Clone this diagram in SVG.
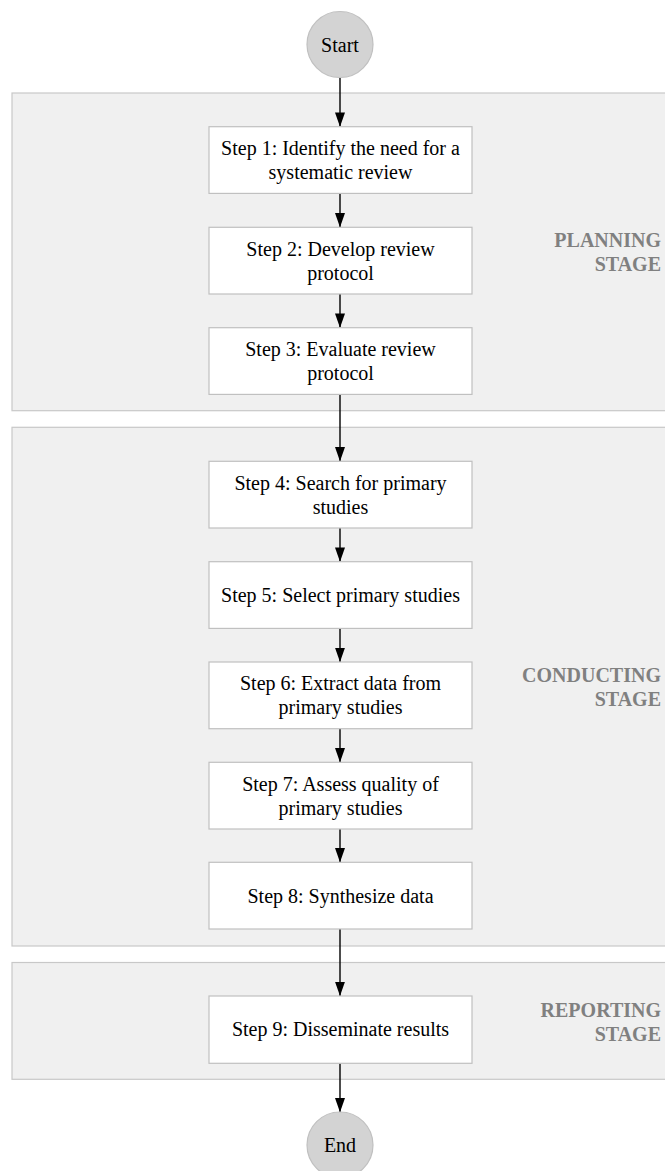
<svg xmlns="http://www.w3.org/2000/svg" width="665" height="1171" viewBox="0 0 665 1171">
  <style>
    .cluster { fill: #f0f0f0; stroke: #c8c8c8; stroke-width: 1.2; }
    .box { fill: #ffffff; stroke: #c0c0c0; stroke-width: 1.2; }
    .term { fill: #d3d3d3; stroke: #c0c0c0; stroke-width: 1.2; }
    .lbl { font-family: "Liberation Serif", "Times New Roman", serif; font-size: 20px; fill: #000000; text-anchor: middle; }
    .stage { font-family: "Liberation Serif", "Times New Roman", serif; font-size: 20px; font-weight: bold; fill: #808080; text-anchor: end; }
    .edge { stroke: #000000; stroke-width: 1.4; fill: none; }
  </style>
  <defs>
    <marker id="arrow" markerUnits="userSpaceOnUse" viewBox="0 0 14.3 10" refX="14.3" refY="5" markerWidth="14.3" markerHeight="10" orient="auto">
      <path d="M0,0 L14.3,5 L0,10 Z" fill="#000000"/>
    </marker>
  </defs>

  <!-- stage clusters -->
  <g id="cluster-planning">
    <rect class="cluster" x="12" y="93" width="670" height="317.7"/>
    <text class="stage" x="661" y="247">PLANNING</text>
    <text class="stage" x="661" y="271">STAGE</text>
  </g>
  <g id="cluster-conducting">
    <rect class="cluster" x="12" y="427.3" width="670" height="518.7"/>
    <text class="stage" x="661" y="682">CONDUCTING</text>
    <text class="stage" x="661" y="706">STAGE</text>
  </g>
  <g id="cluster-reporting">
    <rect class="cluster" x="12" y="962.5" width="670" height="116.8"/>
    <text class="stage" x="661" y="1017">REPORTING</text>
    <text class="stage" x="661" y="1041">STAGE</text>
  </g>

  <!-- connectors -->
  <g id="connectors">
    <line class="edge" x1="340" y1="77.5" x2="340" y2="126.7" marker-end="url(#arrow)"/>
    <line class="edge" x1="340" y1="193.4" x2="340" y2="227.3" marker-end="url(#arrow)"/>
    <line class="edge" x1="340" y1="294" x2="340" y2="327.7" marker-end="url(#arrow)"/>
    <line class="edge" x1="340" y1="394.4" x2="340" y2="461.3" marker-end="url(#arrow)"/>
    <line class="edge" x1="340" y1="528" x2="340" y2="561.7" marker-end="url(#arrow)"/>
    <line class="edge" x1="340" y1="628.4" x2="340" y2="662" marker-end="url(#arrow)"/>
    <line class="edge" x1="340" y1="728.7" x2="340" y2="762.3" marker-end="url(#arrow)"/>
    <line class="edge" x1="340" y1="829" x2="340" y2="862.3" marker-end="url(#arrow)"/>
    <line class="edge" x1="340" y1="929" x2="340" y2="996" marker-end="url(#arrow)"/>
    <line class="edge" x1="340" y1="1063.3" x2="340" y2="1112.3" marker-end="url(#arrow)"/>
  </g>

  <!-- nodes -->
  <g id="start">
    <circle class="term" cx="340" cy="44.5" r="33"/>
    <text class="lbl" x="340" y="51.5">Start</text>
  </g>
  <g id="step1">
    <rect class="box" x="209" y="126.7" width="263" height="66.7"/>
    <text class="lbl" x="340.5" y="155">Step 1: Identify the need for a</text>
    <text class="lbl" x="340.5" y="179">systematic review</text>
  </g>
  <g id="step2">
    <rect class="box" x="209" y="227.3" width="263" height="66.7"/>
    <text class="lbl" x="340.5" y="255.7">Step 2: Develop review</text>
    <text class="lbl" x="340.5" y="279.7">protocol</text>
  </g>
  <g id="step3">
    <rect class="box" x="209" y="327.7" width="263" height="66.7"/>
    <text class="lbl" x="340.5" y="356">Step 3: Evaluate review</text>
    <text class="lbl" x="340.5" y="380">protocol</text>
  </g>
  <g id="step4">
    <rect class="box" x="209" y="461.3" width="263" height="66.7"/>
    <text class="lbl" x="340.5" y="489.7">Step 4: Search for primary</text>
    <text class="lbl" x="340.5" y="513.7">studies</text>
  </g>
  <g id="step5">
    <rect class="box" x="209" y="561.7" width="263" height="66.7"/>
    <text class="lbl" x="340.5" y="602">Step 5: Select primary studies</text>
  </g>
  <g id="step6">
    <rect class="box" x="209" y="662" width="263" height="66.7"/>
    <text class="lbl" x="340.5" y="690.3">Step 6: Extract data from</text>
    <text class="lbl" x="340.5" y="714.3">primary studies</text>
  </g>
  <g id="step7">
    <rect class="box" x="209" y="762.3" width="263" height="66.7"/>
    <text class="lbl" x="340.5" y="790.7">Step 7: Assess quality of</text>
    <text class="lbl" x="340.5" y="814.7">primary studies</text>
  </g>
  <g id="step8">
    <rect class="box" x="209" y="862.3" width="263" height="66.7"/>
    <text class="lbl" x="340.5" y="902.7">Step 8: Synthesize data</text>
  </g>
  <g id="step9">
    <rect class="box" x="209" y="996" width="263" height="67.3"/>
    <text class="lbl" x="340.5" y="1036.3">Step 9: Disseminate results</text>
  </g>
  <g id="end">
    <circle class="term" cx="340" cy="1145" r="33"/>
    <text class="lbl" x="340" y="1152">End</text>
  </g>
</svg>
